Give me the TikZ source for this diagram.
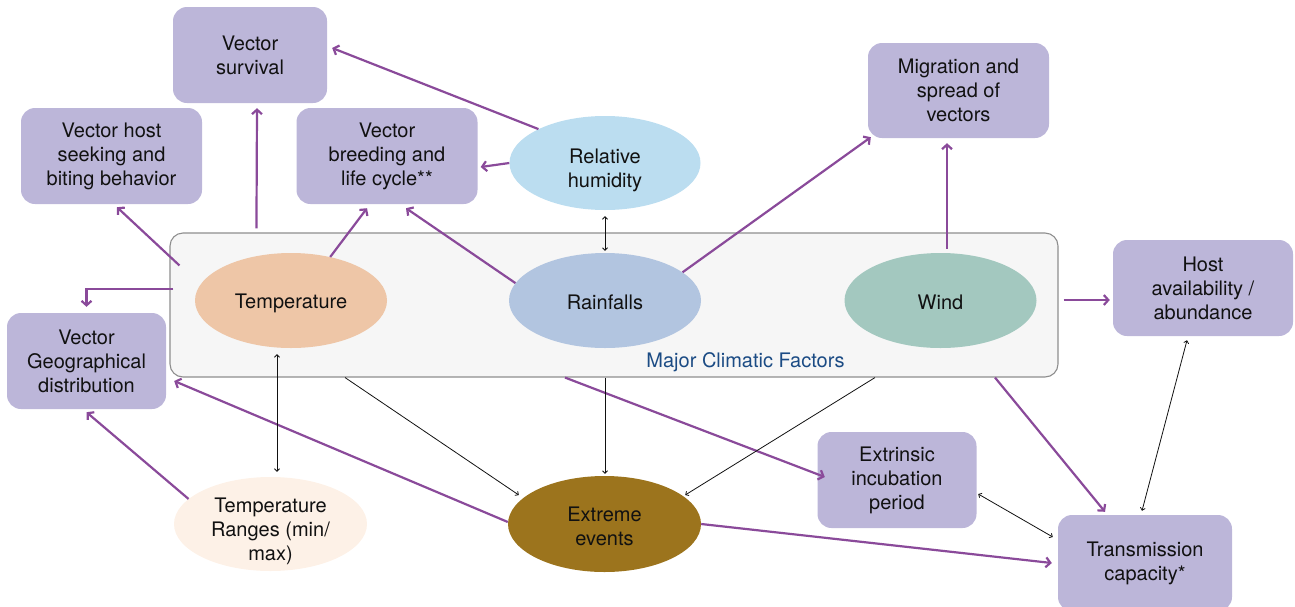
\documentclass[tikz,border=0pt]{standalone}
\usepackage{fontspec}
\setmainfont{TeX Gyre Heros}
\usetikzlibrary{shapes.geometric,arrows.meta}
\definecolor{boxfill}{HTML}{BCB6D9}
\definecolor{humfill}{HTML}{BBDDF0}
\definecolor{tempfill}{HTML}{EEC6A7}
\definecolor{rainfill}{HTML}{B2C5E0}
\definecolor{windfill}{HTML}{A3C8BF}
\definecolor{rangefill}{HTML}{FDF1E7}
\definecolor{extfill}{HTML}{9C741D}
\definecolor{purp}{HTML}{8A4A9A}
\definecolor{lblblue}{HTML}{1B4B84}
\definecolor{panelfill}{HTML}{F6F6F6}
\definecolor{panelline}{HTML}{8E8E8E}
\definecolor{ink}{HTML}{111111}
\begin{document}
\begin{tikzpicture}[x=1pt,y=-1pt,
  every node/.style={font=\fontsize{20}{24}\selectfont, text=ink, inner sep=0pt, align=center},
  factorbox/.style={rectangle, rounded corners=14pt, fill=boxfill},
  factor/.style={ellipse, minimum width=192pt, minimum height=95pt},
  purarrow/.style={draw=purp, line width=2.2pt, -{Straight Barb[length=4.5pt,width=10pt]}},
  blkarrow/.style={draw=ink, line width=0.8pt, -{Straight Barb[length=2.5pt,width=5pt]}},
  blkboth/.style={draw=ink, line width=0.8pt, {Straight Barb[length=2.5pt,width=5pt]}-{Straight Barb[length=2.5pt,width=5pt]}}]
\useasboundingbox (0,0) rectangle (1295,606);
\clip (0,0) rectangle (1295,606);

% panel of climatic factors
\node[rectangle, rounded corners=13pt, fill=panelfill, draw=panelline, line width=1.1pt,
      minimum width=888pt, minimum height=144pt] (mcf) at (614,305) {};
\node[text=lblblue] (lbl) at (745.5,362) {Major Climatic Factors};

% climatic factors (ellipses, with their labels set a little low)
\node[factor, fill=humfill, minimum width=191pt, minimum height=94pt] (hum) at (605,163) {};
\node (humtxt) at (605,170) {Relative\\humidity};
\node[factor, fill=tempfill] (temp) at (291,300.5) {};
\node (temptxt) at (291,303) {Temperature};
\node[factor, fill=rainfill] (rain) at (605,300.5) {};
\node (raintxt) at (605,302) {Rainfalls};
\node[factor, fill=windfill] (wind) at (940.5,300.5) {};
\node (windtxt) at (940.5,302) {Wind};
\node[factor, fill=rangefill, minimum width=193pt, minimum height=94pt] (tr) at (270.5,524) {};
\node (trtxt) at (270.5,531) {Temperature\\Ranges (min/\\max)};
\node[factor, fill=extfill, minimum width=193pt, minimum height=96pt] (ext) at (604.5,524) {};
\node (exttxt) at (604.5,526.5) {Extreme\\events};

% effects on vectors and transmission
\node[factorbox, minimum width=154pt, minimum height=96pt] (surv) at (250,55) {Vector\\survival};
\node[factorbox, minimum width=181pt, minimum height=96pt] (host) at (111.5,156) {Vector host\\seeking and\\biting behavior};
\node[factorbox, minimum width=181pt, minimum height=96pt] (breed) at (387,156) {Vector\\breeding and\\life cycle**};
\node[factorbox, minimum width=181pt, minimum height=95pt] (migr) at (958.5,90.5) {Migration and\\spread of\\vectors};
\node[factorbox, minimum width=180pt, minimum height=96pt] (hosta) at (1203,288) {Host\\availability /\\abundance};
\node[factorbox, minimum width=159pt, minimum height=96pt] (geo) at (86.5,361) {Vector\\Geographical\\distribution};
\node[factorbox, minimum width=159pt, minimum height=96pt] (eip) at (897,480) {Extrinsic\\incubation\\period};
\node[factorbox, minimum width=174pt, minimum height=96pt] (trans) at (1145,563) {Transmission\\capacity*};

% purple influence arrows
\draw[purarrow] (hum.153) -- ([shift={(5,-7)}]surv.east);
\draw[purarrow] (hum.west) -- ([shift={(3,11)}]breed.east);
\draw[purarrow] ([shift={(87,-4)}]mcf.north west) -- ([shift={(7,5)}]surv.south);
\draw[purarrow] ([shift={(10,33)}]mcf.north west) -- ([shift={(5.5,3)}]host.south);
\draw[purarrow] (temp.48) -- ([shift={(-20,4)}]breed.south);
\draw[purarrow] (rain.169) -- ([shift={(19,4)}]breed.south);
\draw[purarrow] (rain.20) -- ([shift={(3,-1)}]migr.south west);
\draw[purarrow] ([shift={(6.5,-4)}]wind.north) -- ([shift={(-11.5,5)}]migr.south);
\draw[purarrow] ([shift={(5,-5)}]mcf.east) -- ([shift={(-3,12)}]hosta.west);
\draw[purarrow] ([shift={(4,-16)}]mcf.west) -| ([shift={(0,-6)}]geo.north);
\draw[purarrow] (tr.163) -- ([shift={(0,3)}]geo.south);
\draw[purarrow] ([shift={(0,-2)}]ext.west) -- ([shift={(8,20)}]geo.east);
\draw[purarrow] ([shift={(-49,0)}]mcf.south) -- ([shift={(7.5,-3)}]eip.west);
\draw[purarrow] ([shift={(381,0)}]mcf.south) -- ([shift={(-40,-3)}]trans.north);
\draw[purarrow] (ext.east) -- ([shift={(-6,0)}]trans.west);

% thin black links
\draw[blkboth] ([shift={(0,6)}]hum.south) -- ([shift={(0,-2)}]rain.north);
\draw[blkboth] ([shift={(-14,6)}]temp.south) -- ([shift={(6.5,-5)}]tr.north);
\draw[blkarrow] ([shift={(-269,0)}]mcf.south) -- ([shift={(11,-29)}]ext.west);
\draw[blkarrow] ([shift={(-9,0)}]mcf.south) -- ([shift={(0.5,-2)}]ext.north);
\draw[blkarrow] ([shift={(261,0)}]mcf.south) -- ([shift={(-16,-29)}]ext.east);
\draw[blkboth] ([shift={(-16,4)}]hosta.south) -- ([shift={(-3,-4)}]trans.north);
\draw[blkboth] ([shift={(1.5,14)}]eip.east) -- ([shift={(-5,-26)}]trans.west);
\end{tikzpicture}
\end{document}
